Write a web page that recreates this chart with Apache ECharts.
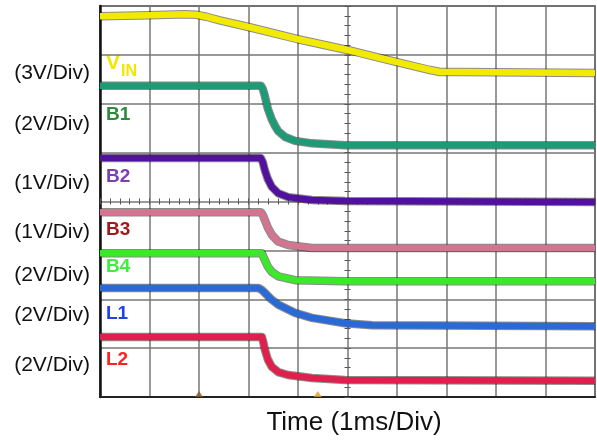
<!DOCTYPE html>
<html>
<head>
<meta charset="utf-8">
<script src="https://cdn.jsdelivr.net/npm/echarts@6.0.0/dist/echarts.min.js"></script>
<style>
  html, body { margin: 0; padding: 0; background: #fff; }
  #chart { width: 597px; height: 441px; }
</style>
</head>
<body>
<div id="chart"></div>
<script>
// x in time divisions (1ms/div), y in screen divisions from the bottom
const vin = [[0, 7.79], [1.0, 7.81], [1.7, 7.83], [1.95, 7.82], [2.15, 7.78], [2.4, 7.71], [3.0, 7.57], [4.0, 7.32], [5.0, 7.10], [6.0, 6.85], [6.67, 6.69], [6.87, 6.65], [7.3, 6.65], [10, 6.63]];
const b1 = [[0, 6.37], [3.25, 6.37], [3.29, 6.30], [3.33, 6.16], [3.39, 5.90], [3.47, 5.68], [3.54, 5.54], [3.60, 5.44], [3.74, 5.32], [3.94, 5.24], [4.28, 5.19], [4.95, 5.15], [10, 5.15]];
const b2 = [[0, 4.89], [3.25, 4.89], [3.29, 4.80], [3.33, 4.64], [3.39, 4.46], [3.47, 4.30], [3.60, 4.17], [3.80, 4.09], [4.28, 4.03], [4.95, 4.01], [10, 3.99]];
const b3 = [[0, 3.78], [3.25, 3.78], [3.29, 3.72], [3.33, 3.62], [3.39, 3.47], [3.47, 3.32], [3.60, 3.18], [3.80, 3.11], [4.28, 3.05], [10, 3.05]];
const b4 = [[0, 2.94], [3.27, 2.94], [3.30, 2.87], [3.33, 2.80], [3.39, 2.67], [3.47, 2.56], [3.60, 2.47], [3.94, 2.39], [4.95, 2.37], [10, 2.37]];
const l1 = [[0, 2.23], [3.2, 2.23], [3.27, 2.19], [3.33, 2.13], [3.47, 1.99], [3.60, 1.89], [3.94, 1.72], [4.28, 1.62], [4.95, 1.51], [5.5, 1.47], [10, 1.45]];
const l2 = [[0, 1.23], [3.27, 1.23], [3.30, 1.12], [3.33, 0.97], [3.39, 0.77], [3.47, 0.62], [3.60, 0.51], [3.80, 0.45], [4.28, 0.39], [4.95, 0.35], [10, 0.33]];
const triggers = [[2.0, 0], [4.4, 0]];

const traceNames = ['VIN', 'B1', 'B2', 'B3', 'B4', 'L1', 'L2'];
const traceData = [vin, b1, b2, b3, b4, l1, l2];
const traceColors = ['#f2ea00', '#1f9a76', '#52109e', '#d27590', '#3ce82a', '#2a6ad6', '#e01f4c'];

const scaleLabels = ['(3V/Div)', '(2V/Div)', '(1V/Div)', '(1V/Div)', '(2V/Div)', '(2V/Div)', '(2V/Div)'];
const scaleLabelY = [73, 124, 183, 232, 275, 315, 365];
const traceLabels = ['B1', 'B2', 'B3', 'B4', 'L1', 'L2'];
const traceLabelY = [115, 177, 230, 267, 314, 360];
const traceLabelColors = ['#2e8b3e', '#7d3fae', '#9e1a1a', '#3ef03e', '#2240f0', '#ff2020'];

const font = '"Liberation Sans", Arial, sans-serif';
const chart = echarts.init(document.getElementById('chart'));

const series = [];
traceData.forEach((d, i) => {
  // dark noisy edge under the trace
  series.push({
    name: traceNames[i] + '-edge', type: 'line', data: d, showSymbol: false,
    silent: true, z: 3,
    lineStyle: { color: 'rgba(25,25,25,0.5)', width: 8.5, join: 'round' }
  });
  series.push({
    name: traceNames[i], type: 'line', data: d, showSymbol: false, z: 4,
    lineStyle: { color: traceColors[i], width: 6.5, join: 'round' }
  });
});
series.push({
  type: 'scatter', data: triggers, symbol: 'triangle', symbolSize: [8, 6],
  symbolOffset: [0, -3], clip: false, z: 6,
  itemStyle: { color: (p) => (p.dataIndex === 0 ? '#8a5a22' : '#e39b1a') }
});

const graphics = [];
scaleLabels.forEach((t, i) => {
  graphics.push({
    type: 'text', x: 90, y: scaleLabelY[i],
    style: { text: t, font: '21px ' + font, fill: '#111', textAlign: 'right', textVerticalAlign: 'middle' }
  });
});
graphics.push({
  type: 'text', x: 106, y: 63,
  style: { text: 'V', font: 'bold 21px ' + font, fill: '#f0e800', textVerticalAlign: 'middle' }
});
graphics.push({
  type: 'text', x: 121, y: 72,
  style: { text: 'IN', font: 'bold 16px ' + font, fill: '#f0e800', textVerticalAlign: 'middle' }
});
traceLabels.forEach((t, i) => {
  graphics.push({
    type: 'text', x: 106, y: traceLabelY[i],
    style: { text: t, font: 'bold 19px ' + font, fill: traceLabelColors[i], textVerticalAlign: 'middle' }
  });
});
graphics.push({
  type: 'text', x: 354, y: 423,
  style: { text: 'Time (1ms/Div)', font: '26px ' + font, fill: '#111', textAlign: 'center', textVerticalAlign: 'middle' }
});

const gridLine = { show: true, lineStyle: { color: '#777', width: 1.5 } };
const centerTicks = (inside) => ({
  show: true, inside: inside, length: 3, lineStyle: { color: '#555', width: 1 }
});
const minor = { show: true, splitNumber: 5, length: 3, lineStyle: { color: '#555' } };

chart.setOption({
  animation: false,
  backgroundColor: '#fff',
  grid: { left: 100, right: 2, top: 6, bottom: 44, show: true, borderColor: '#333', borderWidth: 1.5 },
  xAxis: [
    { type: 'value', min: 0, max: 10, interval: 1,
      axisLine: { show: true, lineStyle: { color: '#222', width: 2 } },
      axisTick: { show: false }, axisLabel: { show: false }, splitLine: gridLine },
    { type: 'value', position: 'bottom', offset: -195.5, min: 0, max: 10, interval: 1,
      axisLine: { show: false }, axisTick: centerTicks(true), minorTick: minor,
      axisLabel: { show: false }, splitLine: { show: false } },
    { type: 'value', position: 'bottom', offset: -195.5, min: 0, max: 10, interval: 1,
      axisLine: { show: false }, axisTick: centerTicks(false), minorTick: minor,
      axisLabel: { show: false }, splitLine: { show: false } }
  ],
  yAxis: [
    { type: 'value', min: 0, max: 8, interval: 1,
      axisLine: { show: true, lineStyle: { color: '#111', width: 2.5 } },
      axisTick: { show: false }, axisLabel: { show: false }, splitLine: gridLine },
    { type: 'value', position: 'left', offset: -247.5, min: 0, max: 8, interval: 1,
      axisLine: { show: false }, axisTick: centerTicks(true), minorTick: minor,
      axisLabel: { show: false }, splitLine: { show: false } },
    { type: 'value', position: 'left', offset: -247.5, min: 0, max: 8, interval: 1,
      axisLine: { show: false }, axisTick: centerTicks(false), minorTick: minor,
      axisLabel: { show: false }, splitLine: { show: false } }
  ],
  series: series,
  graphic: graphics
});
</script>
</body>
</html>
